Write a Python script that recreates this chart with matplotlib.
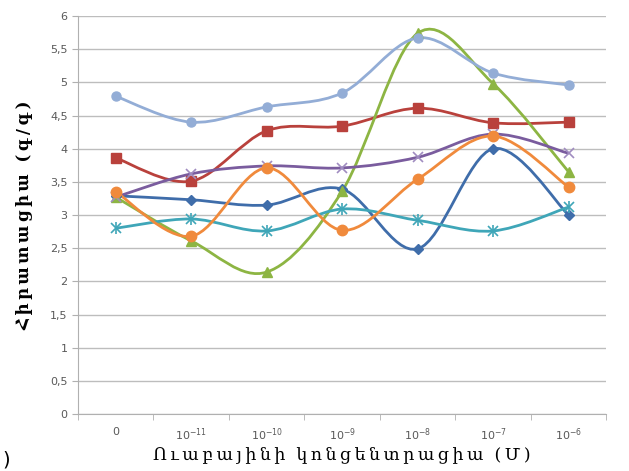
import matplotlib
matplotlib.use('Agg')
import matplotlib.pyplot as plt
from matplotlib.path import Path
from matplotlib.patches import PathPatch

categories = ['0', '$10^{-11}$', '$10^{-10}$', '$10^{-9}$', '$10^{-8}$', '$10^{-7}$', '$10^{-6}$']

dark_blue = [3.29, 3.23, 3.15, 3.39, 2.49, 4.00, 3.00]
red = [3.86, 3.51, 4.27, 4.34, 4.61, 4.39, 4.40]
green = [3.27, 2.61, 2.14, 3.36, 5.74, 4.98, 3.65]
purple = [3.27, 3.62, 3.74, 3.71, 3.87, 4.22, 3.93]
teal = [2.80, 2.94, 2.76, 3.09, 2.92, 2.76, 3.12]
orange = [3.35, 2.68, 3.71, 2.77, 3.54, 4.19, 3.42]
light_blue = [4.79, 4.40, 4.63, 4.84, 5.67, 5.14, 4.96]

series = [
    (dark_blue, '#3F6DAA', 'D', 5.5),
    (red, '#B9413C', 's', 7),
    (green, '#8DB543', '^', 7.5),
    (purple, '#7A5C9E', 'x', 7),
    (teal, '#3FA6B8', 'star', 7),
    (orange, '#F08A3C', 'o', 7.5),
    (light_blue, '#93ADD6', 'o', 6.5),
]

ylabel = 'Հիրատացիա (գ/գ)'
xlabel = 'Ուաբայինի կոնցենտրացիա (Մ)'


def smooth_path(xs, ys):
    # excel-like smoothed line: catmull-rom turned into bezier segments
    pts = list(zip(xs, ys))
    n = len(pts)
    verts = [pts[0]]
    codes = [Path.MOVETO]
    for i in range(n - 1):
        p0 = pts[i - 1] if i > 0 else pts[i]
        p1 = pts[i]
        p2 = pts[i + 1]
        p3 = pts[i + 2] if i + 2 < n else pts[i + 1]
        c1 = (p1[0] + (p2[0] - p0[0]) / 6, p1[1] + (p2[1] - p0[1]) / 6)
        c2 = (p2[0] - (p3[0] - p1[0]) / 6, p2[1] - (p3[1] - p1[1]) / 6)
        verts += [c1, c2, p2]
        codes += [Path.CURVE4] * 3
    return Path(verts, codes)


def spaced(s):
    # the original labels have wide letter spacing
    return '\u2009'.join(s).replace('\u2009 \u2009', '  ')


fig = plt.figure(figsize=(6.29, 4.71), dpi=100)
ax = fig.add_axes([0.124, 0.121, 0.84, 0.845])

x = list(range(len(categories)))
for vals, color, marker, ms in series:
    ax.add_patch(PathPatch(smooth_path(x, vals), facecolor='none', edgecolor=color, lw=2, zorder=3))
    if marker == 'star':
        ax.plot(x, vals, linestyle='none', marker='x', ms=ms, mew=1.2, color=color, zorder=4)
        ax.plot(x, vals, linestyle='none', marker='|', ms=ms + 1, mew=1.2, color=color, zorder=4)
    elif marker == 'x':
        ax.plot(x, vals, linestyle='none', marker='x', ms=ms, mew=1.2, color='#A08CC0', zorder=4)
    else:
        ax.plot(x, vals, linestyle='none', marker=marker, ms=ms, color=color, mec=color, zorder=4)

ax.set_xlim(-0.5, len(categories) - 0.5)
ax.set_ylim(0, 6)
ax.set_yticks([i * 0.5 for i in range(13)])
ax.set_yticklabels([('%g' % (i * 0.5)).replace('.', ',') for i in range(13)])
ax.set_xticks(x)
ax.set_xticklabels(categories)
ax.set_xticks([i + 0.5 for i in range(-1, len(categories))], minor=True)

ax.grid(axis='y', color='#BDBDBD', lw=1)
ax.set_axisbelow(True)
for s in ['top', 'right']:
    ax.spines[s].set_visible(False)
for s in ['left', 'bottom']:
    ax.spines[s].set_color('#B0B0B0')
ax.tick_params(axis='y', colors='#B0B0B0', labelcolor='#595959', labelsize=8, length=4)
ax.tick_params(axis='x', which='major', length=0, labelcolor='#595959', labelsize=8, pad=9)
ax.tick_params(axis='x', which='minor', colors='#B0B0B0', length=4)

ax.set_xlabel(spaced(xlabel), fontsize=12.5, family='DejaVu Serif', labelpad=2)
ax.set_ylabel(spaced(ylabel), fontsize=12, family='DejaVu Serif', fontweight='bold', labelpad=12)

fig.text(0.004, 0.012, ')', fontsize=14)

fig.savefig('out.png', dpi=100)
